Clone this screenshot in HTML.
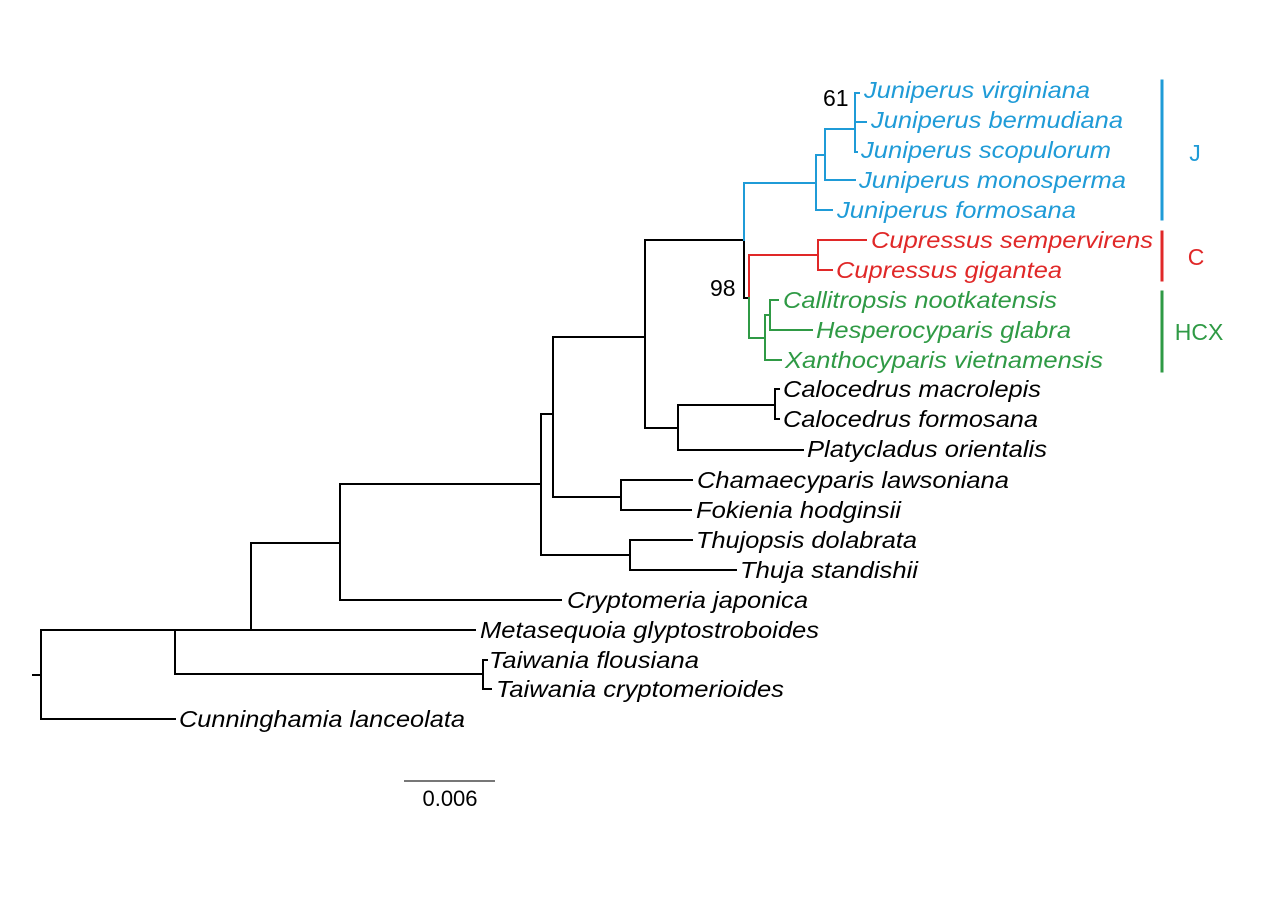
<!DOCTYPE html>
<html><head><meta charset="utf-8"><style>
html,body{margin:0;padding:0;background:#fff;}
svg{display:block}
text{font-family:"Liberation Sans",Arial,sans-serif;}
.t{font-style:italic;font-size:23.5px;}
</style></head><body>
<svg width="1266" height="905" viewBox="0 0 1266 905" xmlns="http://www.w3.org/2000/svg">
<g fill="none" stroke-width="2" stroke-linecap="square">
<g stroke="#000">
<path d="M33 675H41M41 630V719M41 719H175M41 630H175"/>
<path d="M175 630V674M175 674H483M483 660V689M483 660H487M483 689H491M175 630H251"/>
<path d="M251 543V630M251 630H475M251 543H340"/>
<path d="M340 484V600M340 600H561M340 484H541"/>
<path d="M541 414V555M541 414H553M541 555H630M630 540V570M630 540H692M630 570H736"/>
<path d="M553 337V497M553 497H621M621 480V510M621 480H692M621 510H691M553 337H645"/>
<path d="M645 240V428M645 428H678M678 405V450M678 405H775M775 389V419M775 389H779M775 419H779M678 450H803"/>
<path d="M645 240H744M744 240V298M744 298H749"/>
</g>
<g stroke="#1f9bd7">
<path d="M744 183V240M744 183H816M816 155V210M816 210H832M816 155H825M825 129V180M825 180H855M825 129H855M855 93V152M855 93H859M855 122H866M855 152H857"/>
</g>
<g stroke="#e02828">
<path d="M749 255V298M749 255H818M818 240V270M818 240H866M818 270H832"/>
</g>
<g stroke="#2f9a45">
<path d="M749 298V338M749 338H765M765 315V360M765 360H781M765 315H770M770 300V330M770 300H778M770 330H812"/>
</g>
<path d="M405 781H494" stroke="#777" stroke-width="2"/>
<path d="M1162 81V219" stroke="#1f9bd7" stroke-width="3"/>
<path d="M1162 232V280" stroke="#e02828" stroke-width="3"/>
<path d="M1162 292V371" stroke="#2f9a45" stroke-width="3"/>
</g>
<g class="t" fill="#1f9bd7">
<text x="864" y="98" textLength="226" lengthAdjust="spacingAndGlyphs">Juniperus virginiana</text>
<text x="871" y="128" textLength="252" lengthAdjust="spacingAndGlyphs">Juniperus bermudiana</text>
<text x="861" y="158" textLength="250" lengthAdjust="spacingAndGlyphs">Juniperus scopulorum</text>
<text x="859" y="188" textLength="267" lengthAdjust="spacingAndGlyphs">Juniperus monosperma</text>
<text x="837" y="218" textLength="239" lengthAdjust="spacingAndGlyphs">Juniperus formosana</text>
</g>
<g class="t" fill="#e02828">
<text x="871" y="248" textLength="282" lengthAdjust="spacingAndGlyphs">Cupressus sempervirens</text>
<text x="836" y="278" textLength="226" lengthAdjust="spacingAndGlyphs">Cupressus gigantea</text>
</g>
<g class="t" fill="#2f9a45">
<text x="783" y="308" textLength="274" lengthAdjust="spacingAndGlyphs">Callitropsis nootkatensis</text>
<text x="816" y="338" textLength="255" lengthAdjust="spacingAndGlyphs">Hesperocyparis glabra</text>
<text x="785" y="368" textLength="318" lengthAdjust="spacingAndGlyphs">Xanthocyparis vietnamensis</text>
</g>
<g class="t" fill="#000">
<text x="783" y="397" textLength="258" lengthAdjust="spacingAndGlyphs">Calocedrus macrolepis</text>
<text x="783" y="427" textLength="255" lengthAdjust="spacingAndGlyphs">Calocedrus formosana</text>
<text x="807" y="457" textLength="240" lengthAdjust="spacingAndGlyphs">Platycladus orientalis</text>
<text x="697" y="488" textLength="312" lengthAdjust="spacingAndGlyphs">Chamaecyparis lawsoniana</text>
<text x="696" y="518" textLength="205" lengthAdjust="spacingAndGlyphs">Fokienia hodginsii</text>
<text x="696" y="548" textLength="221" lengthAdjust="spacingAndGlyphs">Thujopsis dolabrata</text>
<text x="740" y="578" textLength="178" lengthAdjust="spacingAndGlyphs">Thuja standishii</text>
<text x="567" y="608" textLength="241" lengthAdjust="spacingAndGlyphs">Cryptomeria japonica</text>
<text x="480" y="638" textLength="339" lengthAdjust="spacingAndGlyphs">Metasequoia glyptostroboides</text>
<text x="489" y="668" textLength="210" lengthAdjust="spacingAndGlyphs">Taiwania flousiana</text>
<text x="496" y="697" textLength="288" lengthAdjust="spacingAndGlyphs">Taiwania cryptomerioides</text>
<text x="179" y="727" textLength="286" lengthAdjust="spacingAndGlyphs">Cunninghamia lanceolata</text>
</g>
<g font-size="23" fill="#000">
<text x="823" y="106">61</text>
<text x="710" y="296">98</text>
<text x="450" y="806" text-anchor="middle" font-size="22">0.006</text>
</g>
<g font-size="23">
<text x="1195" y="161" text-anchor="middle" fill="#1f9bd7">J</text>
<text x="1196" y="265" text-anchor="middle" fill="#e02828">C</text>
<text x="1199" y="340" text-anchor="middle" fill="#2f9a45">HCX</text>
</g>
</svg>
</body></html>
